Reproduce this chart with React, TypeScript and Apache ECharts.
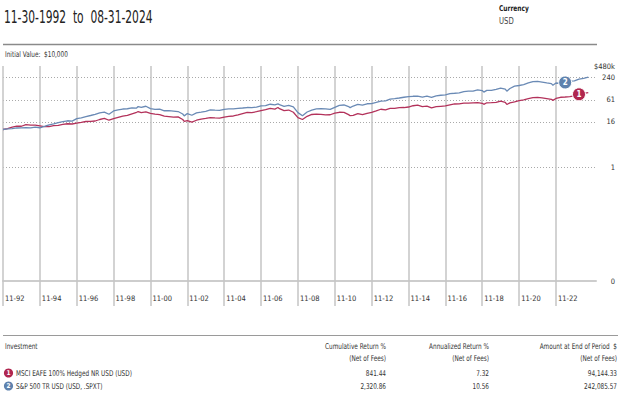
import React, { useEffect, useRef } from "react";
import * as echarts from "echarts";

// ---------- data (values in $ thousands, growth of $10,000) ----------
const dates = [
  "1992-11",
  "1993-02", "1993-05", "1993-08", "1993-11",
  "1994-02", "1994-05", "1994-08", "1994-11",
  "1995-02", "1995-05", "1995-08", "1995-11",
  "1996-02", "1996-05", "1996-08", "1996-11",
  "1997-02", "1997-05", "1997-08", "1997-11",
  "1998-02", "1998-05", "1998-08", "1998-11",
  "1999-02", "1999-05", "1999-08", "1999-11",
  "2000-02", "2000-03", "2000-05", "2000-08", "2000-11",
  "2001-02", "2001-05", "2001-08", "2001-11",
  "2002-02", "2002-05", "2002-08", "2002-09", "2002-11",
  "2003-02", "2003-05", "2003-08", "2003-11",
  "2004-02", "2004-05", "2004-08", "2004-11",
  "2005-02", "2005-05", "2005-08", "2005-11",
  "2006-02", "2006-05", "2006-08", "2006-11",
  "2007-02", "2007-05", "2007-08", "2007-10", "2007-11",
  "2008-02", "2008-05", "2008-08", "2008-11",
  "2009-02", "2009-05", "2009-08", "2009-11",
  "2010-02", "2010-05", "2010-08", "2010-11",
  "2011-02", "2011-05", "2011-08", "2011-09", "2011-11",
  "2012-02", "2012-05", "2012-08", "2012-11",
  "2013-02", "2013-05", "2013-08", "2013-11",
  "2014-02", "2014-05", "2014-08", "2014-11",
  "2015-02", "2015-05", "2015-08", "2015-11",
  "2016-02", "2016-05", "2016-08", "2016-11",
  "2017-02", "2017-05", "2017-08", "2017-11",
  "2018-02", "2018-05", "2018-08", "2018-11", "2018-12",
  "2019-02", "2019-05", "2019-08", "2019-11",
  "2020-02", "2020-03", "2020-05", "2020-08", "2020-11",
  "2021-02", "2021-05", "2021-08", "2021-11",
  "2022-02", "2022-05", "2022-08", "2022-09", "2022-11",
  "2023-02", "2023-05", "2023-08", "2023-11",
  "2024-02", "2024-05", "2024-08",
];

const spxValues = [
  10.0,
  10.35, 10.58, 10.98, 11.01,
  11.21, 11.04, 11.58, 11.12,
  12.03, 13.26, 14.07, 15.26,
  16.23, 17.04, 16.69, 19.47,
  20.45, 22.04, 23.49, 25.07,
  27.62, 28.83, 25.38, 30.94,
  33.02, 34.86, 35.46, 37.41,
  36.91, 40.5, 38.53, 41.29, 35.89,
  33.97, 34.58, 31.34, 31.63,
  30.84, 29.89, 25.76, 22.96, 26.43,
  23.84, 27.45, 28.83, 30.39,
  33.01, 32.47, 32.12, 34.29,
  35.29, 35.11, 36.11, 37.12,
  38.2, 38.07, 39.24, 42.32,
  42.68, 46.67, 45.12, 47.6, 45.52,
  41.06, 43.43, 39.94, 28.02,
  23.12, 29.08, 32.45, 35.05,
  35.55, 35.27, 34.18, 38.69,
  43.75, 44.57, 40.63, 37.8, 41.81,
  46.07, 44.47, 48.02, 48.64,
  52.28, 56.62, 57.04, 63.46,
  65.68, 68.28, 71.47, 74.13,
  75.83, 76.32, 71.85, 76.17,
  71.1, 77.55, 80.69, 82.13,
  88.73, 91.08, 93.81, 101.0,
  104.0, 104.2, 112.4, 107.4, 97.6,
  108.9, 108.3, 115.7, 124.8,
  117.9, 103.3, 122.0, 140.8, 146.2,
  154.5, 171.1, 184.8, 187.4,
  180.2, 170.9, 164.3, 149.0, 170.1,
  166.2, 175.7, 190.2, 193.5,
  216.8, 225.2, 242.09,
];

const eafeValues = [
  10.0,
  10.6, 11.5, 12.3, 12.2,
  13.5, 13.0, 13.1, 12.5,
  11.9, 12.0, 12.6, 12.9,
  13.6, 14.2, 14.0, 14.8,
  15.4, 16.3, 16.4, 16.8,
  18.4, 19.6, 17.6, 19.4,
  21.0, 22.6, 23.6, 26.0,
  28.6, 29.8, 28.0, 29.2, 26.8,
  25.6, 24.8, 22.6, 22.0,
  21.4, 21.6, 18.4, 16.4, 17.2,
  15.6, 17.6, 18.8, 19.6,
  20.6, 20.2, 20.0, 21.2,
  22.2, 22.8, 24.4, 26.4,
  28.4, 28.0, 29.6, 31.6,
  33.4, 36.4, 34.8, 38.2, 35.6,
  31.6, 32.8, 28.6, 20.6,
  18.4, 22.4, 25.0, 25.4,
  25.2, 24.4, 24.6, 27.0,
  28.6, 28.4, 24.8, 23.2, 23.8,
  26.4, 24.6, 26.8, 28.4,
  31.2, 34.4, 33.2, 36.2,
  36.4, 37.8, 38.2, 39.4,
  42.6, 44.2, 40.2, 41.6,
  37.4, 40.2, 41.2, 42.0,
  44.6, 47.4, 48.0, 50.2,
  50.2, 51.0, 51.2, 49.4, 46.4,
  51.0, 51.4, 52.2, 56.8,
  52.6, 46.0, 50.8, 54.0, 58.4,
  61.2, 66.0, 69.6, 70.6,
  69.2, 66.0, 63.0, 59.0, 66.4,
  71.4, 72.6, 74.6, 77.6,
  85.6, 90.4, 94.14,
];

const yTickValues = [0, 1, 16, 61, 240, 480];
const yTickLabels = ["0", "1", "16", "61", "240", "$480k"];
const xTickLabels = [
  "11-92", "11-94", "11-96", "11-98", "11-00", "11-02", "11-04", "11-06",
  "11-08", "11-10", "11-12", "11-14", "11-16", "11-18", "11-20", "11-22",
];

const tableHeaders = ["Investment", "Cumulative Return %", "Annualized Return %", "Amount at End of Period  $"];
const seriesNames = ["MSCI EAFE 100% Hedged NR USD (USD)", "S&P 500 TR USD (USD, .SPXT)"];
const cumulativeReturns = ["841.44", "2,320.86"];
const annualizedReturns = ["7.32", "10.56"];
const endAmounts = ["94,144.33", "242,085.57"];

// ---------- helpers ----------
const LOG_FLOOR = -10;
const toAxis = (v: number) => (v <= 0 ? LOG_FLOOR : Math.log2(v));
const monthEnd = (s: string) => {
  const [y, m] = s.split("-").map(Number);
  return new Date(y, m, 0).getTime();
};
const tickTime = (label: string) => {
  const [m, yy] = label.split("-").map(Number);
  const y = yy > 50 ? 1900 + yy : 2000 + yy;
  return new Date(y, m, 0).getTime();
};

const NARROW = '"Liberation Sans Narrow", "DejaVu Sans Condensed", "Arial Narrow", sans-serif';
const RED = "#b3325b";
const BLUE = "#6a8ab5";
const RED_BADGE = "#b0264f";
const BLUE_BADGE = "#5f82ad";

export default function App() {
  const ref = useRef<HTMLDivElement>(null);

  useEffect(() => {
    if (!ref.current) return;
    const chart = echarts.init(ref.current, undefined, { renderer: "svg" });

    const xTicks = xTickLabels.map(tickTime);
    const yTicks = yTickValues.map(toAxis);
    const yMax = toAxis(yTickValues[yTickValues.length - 1]);

    const spxData = dates.map((d, i) => [monthEnd(d), toAxis(spxValues[i])]);
    const eafeData = dates.map((d, i) => [monthEnd(d), toAxis(eafeValues[i])]);

    const ri = dates.indexOf("2024-02");
    const bi = dates.indexOf("2023-05");

    const font = (size: number, weight = "normal") => `${weight} ${size}px ${NARROW}`;
    const txt = (
      x: number,
      y: number,
      text: string,
      size: number,
      align = "left",
      fill = "#333",
      weight = "normal",
      sx = 0.8
    ) => ({
      type: "text",
      x,
      y,
      scaleX: sx,
      silent: true,
      style: { text, font: font(size, weight), fill, align, verticalAlign: "middle" },
    });

    const colRight = [0, 386, 489, 617];
    const rowY = [373, 386];
    const badgeColors = [RED_BADGE, BLUE_BADGE];

    const graphics: any[] = [
      txt(4, 17, "11-30-1992  to  08-31-2024", 18, "left", "#222", "normal", 0.66),
      txt(499, 8, "Currency", 8, "left", "#222", "bold", 0.82),
      txt(499, 21, "USD", 9, "left", "#444", "normal", 0.85),
      { type: "line", silent: true, shape: { x1: 3, y1: 44.5, x2: 597, y2: 44.5 }, style: { stroke: "#8a8a8a", lineWidth: 1.5 } },
      txt(5, 54, "Initial Value:  $10,000", 8, "left", "#333"),
      { type: "line", silent: true, shape: { x1: 3, y1: 335.5, x2: 618, y2: 335.5 }, style: { stroke: "#9a9a9a", lineWidth: 1 } },
      txt(5, 346, tableHeaders[0], 8, "left", "#333"),
      txt(colRight[1], 346, tableHeaders[1], 8, "right", "#333"),
      txt(colRight[2], 346, tableHeaders[2], 8, "right", "#333"),
      txt(colRight[3], 346, tableHeaders[3], 8, "right", "#333"),
      txt(colRight[1], 358, "(Net of Fees)", 8, "right", "#333"),
      txt(colRight[2], 358, "(Net of Fees)", 8, "right", "#333"),
      txt(colRight[3], 358, "(Net of Fees)", 8, "right", "#333"),
    ];
    seriesNames.forEach((name, i) => {
      const y = rowY[i];
      graphics.push({ type: "circle", silent: true, shape: { cx: 8.5, cy: y, r: 4.6 }, style: { fill: badgeColors[i] } });
      graphics.push(txt(8.5, y + 0.3, String(i + 1), 6.5, "center", "#fff", "bold", 1));
      graphics.push(txt(16, y, name, 8, "left", "#333"));
      graphics.push(txt(colRight[1], y, cumulativeReturns[i], 8, "right", "#333"));
      graphics.push(txt(colRight[2], y, annualizedReturns[i], 8, "right", "#333"));
      graphics.push(txt(colRight[3], y, endAmounts[i], 8, "right", "#333"));
    });

    const option: any = {
      animation: false,
      backgroundColor: "#ffffff",
      grid: { left: 3, top: 66, width: 593, height: 215, containLabel: false },
      xAxis: {
        type: "value",
        min: monthEnd("1992-11"),
        max: new Date(2025, 0, 31).getTime(),
        axisLine: { show: true, onZero: false, lineStyle: { color: "#cdcdcd", width: 2 } },
        axisTick: { show: true, customValues: xTicks, length: 25, lineStyle: { color: "#c4c4c4", width: 1.5 } },
        axisLabel: {
          customValues: xTicks,
          formatter: (v: number) => {
            const idx = xTicks.findIndex((t) => Math.abs(t - v) < 86400000);
            return idx >= 0 ? xTickLabels[idx] : "";
          },
          align: "left",
          padding: [0, 0, 0, 2],
          margin: 13,
          color: "#333",
          fontSize: 7.5,
          fontFamily: NARROW,
        },
        splitLine: { show: false },
      },
      yAxis: {
        type: "value",
        position: "right",
        min: LOG_FLOOR,
        max: yMax,
        axisLine: { show: false },
        axisTick: { show: false },
        splitLine: { show: false },
        axisLabel: {
          customValues: yTicks,
          formatter: (v: number) => {
            const idx = yTicks.findIndex((t) => Math.abs(t - v) < 1e-6);
            return idx >= 0 ? yTickLabels[idx] : "";
          },
          align: "right",
          margin: 19,
          color: "#333",
          fontSize: 7.5,
          fontFamily: NARROW,
        },
      },
      graphic: graphics,
      series: [
        {
          type: "line",
          name: "grid",
          data: [],
          z: 1,
          silent: true,
          markLine: {
            silent: true,
            z: 1,
            animation: false,
            symbol: ["none", "none"],
            label: { show: false },
            emphasis: { disabled: true },
            data: [
              ...yTickValues
                .filter((v) => v > 0)
                .map((v) => ({ yAxis: toAxis(v), lineStyle: { type: [1, 2], color: "#a9a9a9", width: 1 } })),
              ...xTicks.map((t) => ({ xAxis: t, lineStyle: { type: "solid", color: "#c4c4c4", width: 1.5 } })),
            ],
          },
        },
        {
          type: "line",
          name: seriesNames[0],
          data: eafeData,
          showSymbol: false,
          z: 3,
          lineStyle: { color: RED, width: 1.3 },
          itemStyle: { color: RED },
          markPoint: {
            z: 10,
            symbol: "circle",
            symbolSize: 13,
            silent: true,
            label: { show: true, formatter: "1", color: "#fff", fontSize: 8, fontFamily: NARROW, fontWeight: "bold" },
            itemStyle: { color: RED_BADGE, borderColor: "#fff", borderWidth: 1 },
            data: [{ coord: [monthEnd(dates[ri]), toAxis(eafeValues[ri])] }],
          },
        },
        {
          type: "line",
          name: seriesNames[1],
          data: spxData,
          showSymbol: false,
          z: 3,
          lineStyle: { color: BLUE, width: 1.3 },
          itemStyle: { color: BLUE },
          markPoint: {
            z: 10,
            symbol: "circle",
            symbolSize: 13,
            silent: true,
            label: { show: true, formatter: "2", color: "#fff", fontSize: 8, fontFamily: NARROW, fontWeight: "bold" },
            itemStyle: { color: BLUE_BADGE, borderColor: "#fff", borderWidth: 1 },
            data: [{ coord: [monthEnd(dates[bi]), toAxis(spxValues[bi])] }],
          },
        },
      ],
    };

    chart.setOption(option);
    return () => chart.dispose();
  }, []);

  return (
    <div
      ref={ref}
      style={{ position: "fixed", left: 0, top: 0, width: 624, height: 394, background: "#fff" }}
    />
  );
}
